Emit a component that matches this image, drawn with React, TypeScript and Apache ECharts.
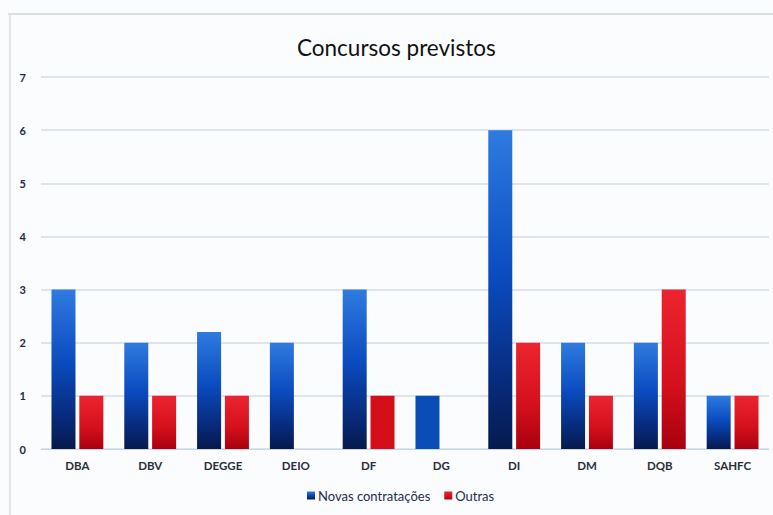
import React, { useEffect, useRef } from "react";
import * as echarts from "echarts";

const categories = ["DBA", "DBV", "DEGGE", "DEIO", "DF", "DG", "DI", "DM", "DQB", "SAHFC"];
const novasContratacoes = [3, 2, 2.2, 2, 3, 1, 6, 2, 2, 1];
const outras = [1, 1, 1, null, 1, null, 2, 1, 3, 1];
const yTicks = [0, 1, 2, 3, 4, 5, 6, 7];
const seriesNames = ["Novas contratações", "Outras"];

const blueGrad = new echarts.graphic.LinearGradient(0, 0, 0, 1, [
  { offset: 0, color: "#2f7be0" },
  { offset: 0.45, color: "#0b4cc0" },
  { offset: 0.8, color: "#072a7a" },
  { offset: 1, color: "#061a4d" },
]);
const redGrad = new echarts.graphic.LinearGradient(0, 0, 0, 1, [
  { offset: 0, color: "#ec2430" },
  { offset: 0.6, color: "#d4101c" },
  { offset: 1, color: "#a8000e" },
]);

export default function App() {
  const ref = useRef<HTMLDivElement>(null);
  useEffect(() => {
    if (!ref.current) return;
    const chart = echarts.init(ref.current, null, { renderer: "svg" });
    const blueData = novasContratacoes.map((v, i) =>
      categories[i] === "DG" ? { value: v, itemStyle: { color: "#0b4db8" } } : v
    );
    const redData = outras.map((v, i) =>
      categories[i] === "DF" ? { value: v, itemStyle: { color: "#d40f1a" } } : v
    );
    chart.setOption({
      animation: false,
      backgroundColor: "#fbfcfd",
      title: {
        text: "Concursos previstos",
        left: 292,
        top: 31,
        textStyle: { fontFamily: "Lato", fontSize: 22.5, fontWeight: "normal", color: "#111111" },
      },
      legend: {
        data: seriesNames,
        bottom: 8,
        left: 302,
        itemWidth: 8,
        itemHeight: 8,
        itemGap: 14,
        icon: "rect",
        textStyle: { fontFamily: "Lato", fontSize: 13, color: "#1f2d4d", padding: [0, 0, 0, -2] },
      },
      grid: { left: 41, right: 4, top: 77, bottom: 66 },
      xAxis: {
        type: "category",
        data: categories,
        axisTick: { show: false },
        axisLine: { lineStyle: { color: "#c9d6e3" } },
        axisLabel: { fontFamily: "Lato", fontSize: 11.5, fontWeight: "bold", color: "#2a2f3a", margin: 10 },
      },
      yAxis: {
        type: "value",
        min: 0,
        max: 7,
        interval: 1,
        axisLabel: {
          fontFamily: "Lato",
          fontSize: 11,
          fontWeight: "bold",
          color: "#1c2a48",
          margin: 15,
          formatter: (v: number) => (yTicks.includes(v) ? String(v) : ""),
        },
        splitLine: { lineStyle: { color: "#d3dde6", width: 1.5 } },
      },
      graphic: [
        { type: "line", shape: { x1: 8, y1: 14, x2: 773, y2: 14 }, style: { stroke: "#d8e0e6", lineWidth: 2 } },
        { type: "line", shape: { x1: 10, y1: 14, x2: 10, y2: 515 }, style: { stroke: "#e2e6ea", lineWidth: 2 } },
      ],
      series: [
        {
          name: seriesNames[0],
          type: "bar",
          data: blueData,
          barWidth: 24,
          barGap: "16%",
          itemStyle: { color: blueGrad },
        },
        {
          name: seriesNames[1],
          type: "bar",
          data: redData,
          barWidth: 24,
          itemStyle: { color: redGrad },
        },
      ],
    });
    return () => chart.dispose();
  }, []);
  return (
    <div
      ref={ref}
      style={{ position: "absolute", left: 0, top: 0, width: 773, height: 515 }}
    />
  );
}
